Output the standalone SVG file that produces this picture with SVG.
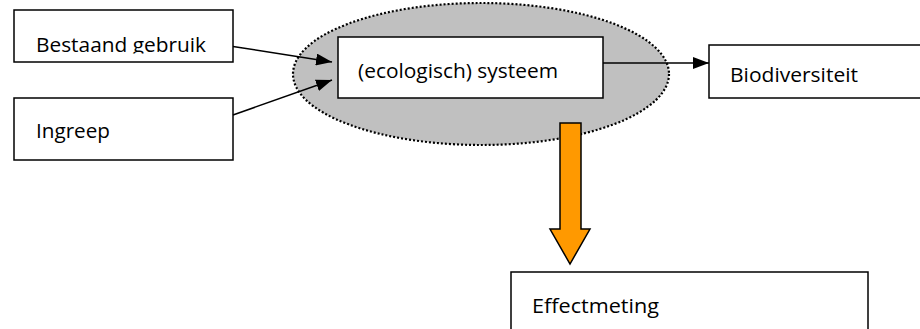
<svg xmlns="http://www.w3.org/2000/svg" width="920" height="329" viewBox="0 0 920 329">
<style>
.box{fill:#ffffff;stroke:#000000;stroke-width:1.5}
.lbl{font-family:"Open Sans","Liberation Sans",sans-serif;font-size:20px;fill:#000000}
.con{stroke:#000000;stroke-width:1.5;fill:none}
</style>
<defs>
<marker id="ah" markerWidth="16" markerHeight="12" refX="16" refY="6" orient="auto" markerUnits="userSpaceOnUse">
<path d="M0,0 L16,6 L0,12 Z" fill="#000000"/>
</marker>
<clipPath id="clipB"><rect x="14" y="10" width="220" height="43.5"/></clipPath>
</defs>
<rect width="920" height="329" fill="#ffffff"/>
<g id="ellipse">
<ellipse cx="481" cy="74" rx="188" ry="71" fill="#c0c0c0" stroke="#000000" stroke-width="2.2" stroke-dasharray="2 2"/>
</g>
<g id="node-bestaand">
<rect class="box" x="14" y="10" width="219" height="52"/>
<text class="lbl" x="36" y="52" textLength="170" lengthAdjust="spacingAndGlyphs" clip-path="url(#clipB)">Bestaand gebruik</text>
</g>
<g id="node-ingreep">
<rect class="box" x="14" y="98" width="219" height="62"/>
<text class="lbl" x="36" y="138" textLength="74" lengthAdjust="spacingAndGlyphs">Ingreep</text>
</g>
<g id="node-systeem">
<rect class="box" x="338" y="37" width="265" height="61"/>
<text class="lbl" x="358" y="78" textLength="200" lengthAdjust="spacingAndGlyphs">(ecologisch) systeem</text>
</g>
<g id="node-biodiversiteit">
<rect class="box" x="709" y="45" width="220" height="53"/>
<text class="lbl" x="730" y="82" textLength="128" lengthAdjust="spacingAndGlyphs">Biodiversiteit</text>
</g>
<g id="node-effectmeting">
<rect class="box" x="511" y="272" width="357" height="70"/>
<text class="lbl" x="532" y="313" textLength="127" lengthAdjust="spacingAndGlyphs">Effectmeting</text>
</g>
<g id="connectors">
<line class="con" x1="233" y1="46.5" x2="332" y2="62" marker-end="url(#ah)"/>
<line class="con" x1="233" y1="115" x2="332" y2="80" marker-end="url(#ah)"/>
<line class="con" x1="603" y1="63" x2="709" y2="63" marker-end="url(#ah)"/>
<path d="M560,123 L581,123 L581,229 L590,229 L570,264 L550,229 L560,229 Z" fill="#ff9900" stroke="#000000" stroke-width="1.5" stroke-linejoin="miter"/>
</g>
</svg>
